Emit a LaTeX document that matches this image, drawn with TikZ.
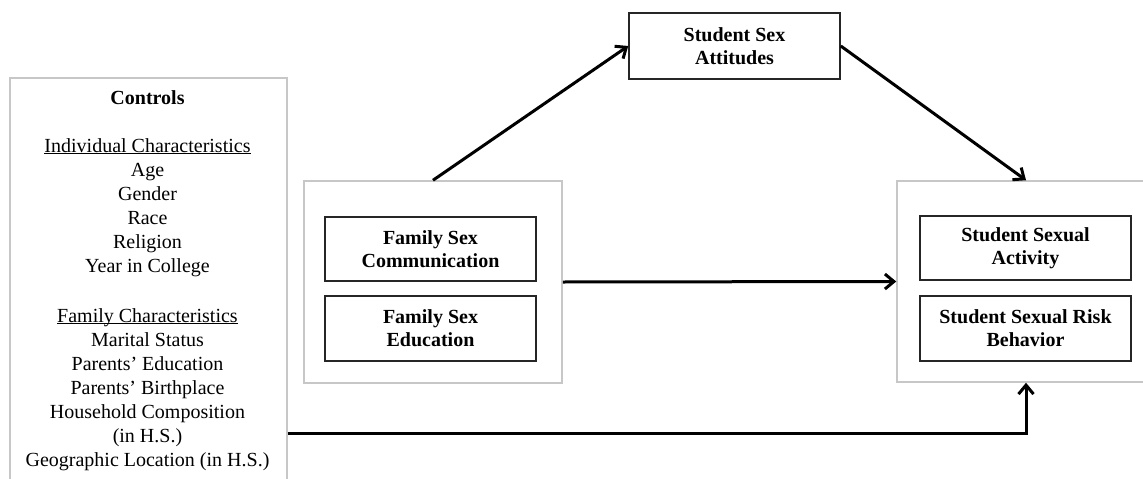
\documentclass[tikz,border=0pt]{standalone}
\usepackage{fontspec}
\setmainfont{Liberation Serif}
\usetikzlibrary{arrows.meta}
% underlined heading whose rule sits close to the baseline
\newcommand\ulhead[1]{\underline{\smash{#1}}}
\begin{document}
\begin{tikzpicture}[x=1pt,y=-1pt,
  panel/.style={draw=black!22, line width=1.5pt},
  varbox/.style={draw=black!85, line width=1.6pt, align=center, inner sep=0pt,
    font=\fontsize{20}{23}\selectfont\bfseries, minimum width=211pt},
  path arrow/.style={line width=3pt, -{Straight Barb[length=9pt,width=15pt]}},
]
\path[use as bounding box] (0,0) rectangle (1143,479);
\clip (0,0) rectangle (1143,479);

% controls panel (runs off the lower edge)
\node[panel, minimum width=277pt, minimum height=440pt, anchor=north west] (ctrl) at (9,77) {};
\node[anchor=north, inner sep=0pt, align=center, font=\fontsize{20}{24}\selectfont] (ctrltext) at (147.5,90)
  {\textbf{Controls}\\[24pt]
   \ulhead{Individual Characteristics}\\
   Age\\ Gender\\ Race\\ Religion\\ Year in College\\[26pt]
   \ulhead{Family Characteristics}\\
   Marital Status\\ Parents' Education\\ Parents' Birthplace\\
   Household Composition\\ (in H.S.)\\ Geographic Location (in H.S.)};

% mediator
\node[varbox, minimum height=66pt] (att) at (734.5,46) {Student Sex\\Attitudes};

% family predictors
\node[panel, minimum width=258pt, minimum height=202pt] (fam) at (433,282) {};
\node[varbox, minimum height=64pt] (fsc) at (430.5,249) {Family Sex\\Communication};
\node[varbox, minimum height=65pt] (fse) at (430.5,328.5) {Family Sex\\Education};

% student outcomes
\node[panel, minimum width=258pt, minimum height=201pt] (out) at (1026,281.5) {};
\node[varbox, minimum height=64pt] (ssa) at (1025.5,248) {Student Sexual\\Activity};
\node[varbox, minimum height=65pt] (ssrb) at (1025.5,328.5) {Student Sexual Risk\\Behavior};

% paths
\draw[path arrow] (fam.north) -- (att.west);
\draw[path arrow] (att.east) -- (out.north);
\draw[path arrow] (fam.east) -- (out.west);
\coordinate (turn) at (1026,433);
\draw[path arrow] (ctrl.east |- turn) -- (turn) -- (out.south);
\end{tikzpicture}
\end{document}
